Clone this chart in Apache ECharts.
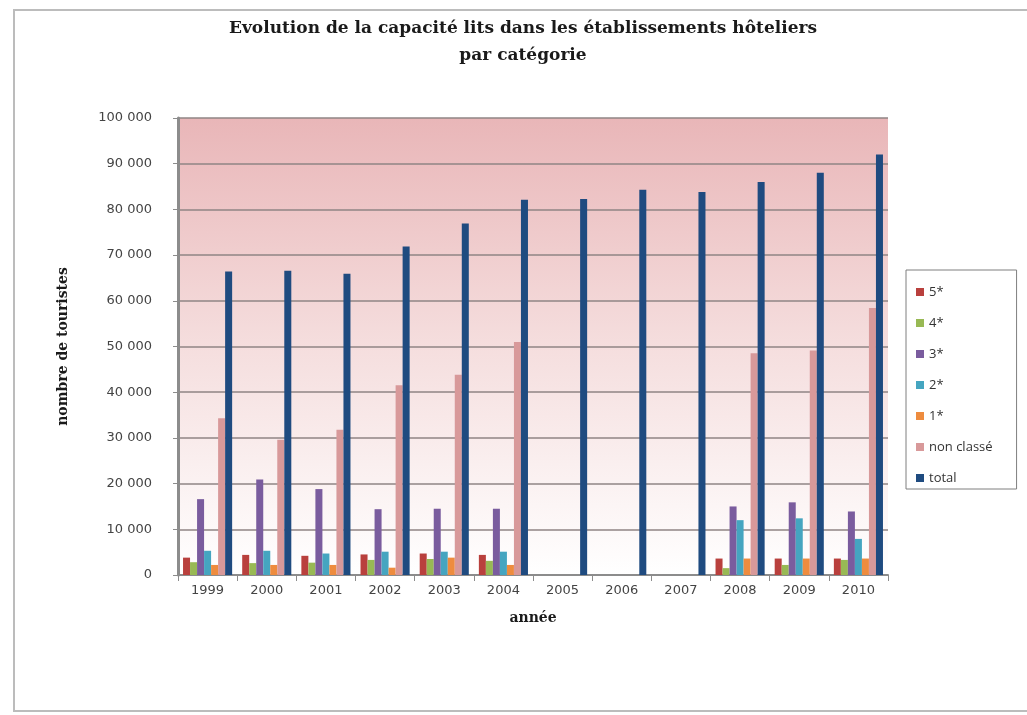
<!DOCTYPE html>
<html>
<head>
<meta charset="utf-8">
<script src="https://cdn.jsdelivr.net/npm/echarts@6/dist/echarts.min.js"></script>
<style>
  html, body { margin: 0; padding: 0; background: #fff; }
  #main { width: 1027px; height: 715px; }
</style>
</head>
<body>
<div id="main"></div>
<script>
const years = ['1999', '2000', '2001', '2002', '2003', '2004', '2005', '2006', '2007', '2008', '2009', '2010'];
const seriesNames = ['5*', '4*', '3*', '2*', '1*', 'non classé', 'total'];
const cinq = [3800, 4400, 4200, 4500, 4700, 4400, null, null, null, 3600, 3600, 3600];
const quatre = [2800, 2600, 2700, 3300, 3500, 3100, null, null, null, 1500, 2200, 3300];
const trois = [16600, 20900, 18800, 14400, 14500, 14500, null, null, null, 15000, 15900, 13900];
const deux = [5300, 5300, 4700, 5100, 5100, 5100, null, null, null, 12000, 12400, 7900];
const une = [2200, 2200, 2200, 1600, 3800, 2200, null, null, null, 3600, 3600, 3600];
const nonClasse = [34300, 29600, 31800, 41500, 43800, 51000, null, null, null, 48500, 49100, 58400];
const total = [66400, 66600, 65900, 71900, 76900, 82100, 82300, 84300, 83800, 86000, 88000, 92000];
const yTicks = [0, 10000, 20000, 30000, 40000, 50000, 60000, 70000, 80000, 90000, 100000];

const colors = ['#B9403D', '#98B954', '#7A5C9E', '#45A5C0', '#EE8C3E', '#D8999A', '#1F4B80'];
const allData = [cinq, quatre, trois, deux, une, nonClasse, total];

const myChart = echarts.init(document.getElementById('main'));

const option = {
  animation: false,
  color: colors,
  title: {
    text: 'Evolution de la capacité lits dans les établissements hôteliers\npar catégorie',
    left: 518,
    top: 10,
    textAlign: 'center',
    textStyle: {
      fontFamily: 'DejaVu Serif',
      fontWeight: 'bold',
      fontSize: 17,
      lineHeight: 27,
      color: '#1a1a1a'
    }
  },
  legend: {
    orient: 'vertical',
    left: 906,
    top: 270,
    padding: [15, 24, 4, 10],
    itemWidth: 8,
    itemHeight: 8,
    itemGap: 17,
    borderColor: '#7f7f7f',
    borderWidth: 1,
    icon: 'rect',
    data: seriesNames,
    textStyle: {
      fontFamily: 'Open Sans',
      fontSize: 13,
      lineHeight: 14,
      color: '#333'
    }
  },
  grid: {
    left: 178,
    right: 139,
    top: 118,
    bottom: 140
  },
  graphic: [
    {
      type: 'rect',
      shape: { x: 14, y: 10, width: 1020, height: 701 },
      style: { fill: 'none', stroke: '#bcbcbc', lineWidth: 2 },
      z: -10
    },
    {
      type: 'rect',
      shape: { x: 178, y: 118, width: 710, height: 457 },
      style: {
        fill: new echarts.graphic.LinearGradient(0, 0, 0, 1, [
          { offset: 0, color: '#E9B6B8' },
          { offset: 0.5, color: '#F5DEDE' },
          { offset: 1, color: '#FFFFFF' }
        ])
      },
      z: -5
    }
  ],
  xAxis: {
    type: 'category',
    data: years,
    name: 'année',
    nameLocation: 'middle',
    nameGap: 36,
    nameTextStyle: {
      fontFamily: 'DejaVu Serif',
      fontWeight: 'bold',
      fontSize: 14,
      color: '#1a1a1a'
    },
    axisLine: { lineStyle: { color: '#8c8c8c', width: 2 } },
    axisTick: { show: true, length: 6, lineStyle: { color: '#8c8c8c' } },
    axisLabel: {
      fontFamily: 'DejaVu Sans',
      fontSize: 13,
      color: '#444',
      margin: 9
    }
  },
  yAxis: {
    type: 'value',
    min: 0,
    max: 100000,
    interval: 10000,
    name: 'nombre de touristes',
    nameLocation: 'middle',
    nameGap: 108,
    nameRotate: 90,
    nameTextStyle: {
      fontFamily: 'DejaVu Serif',
      fontWeight: 'bold',
      fontSize: 14,
      color: '#1a1a1a'
    },
    axisLine: { show: true, lineStyle: { color: '#8c8c8c', width: 3 } },
    axisTick: { show: true, length: 5, lineStyle: { color: '#8c8c8c' } },
    splitLine: { lineStyle: { color: '#8f8585', width: 1.5 } },
    axisLabel: {
      fontFamily: 'DejaVu Sans',
      fontSize: 13,
      color: '#444',
      margin: 26,
      formatter: function (v) {
        if (yTicks.indexOf(v) < 0) return '';
        return String(v).replace(/\B(?=(\d{3})+(?!\d))/g, ' ');
      }
    }
  },
  series: seriesNames.map(function (name, i) {
    return {
      name: name,
      type: 'bar',
      data: allData[i],
      barGap: '0%',
      barCategoryGap: '17%',
      itemStyle: { color: colors[i] }
    };
  })
};

myChart.setOption(option);
window.addEventListener('resize', function () {
  myChart.resize();
});
</script>
</body>
</html>
